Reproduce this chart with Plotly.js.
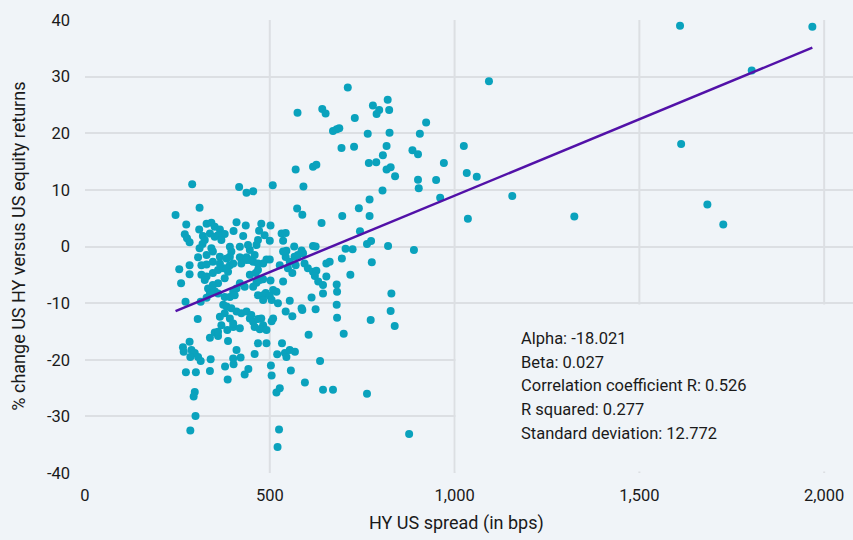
<!DOCTYPE html>
<html><head><meta charset="utf-8">
<script src="https://cdn.plot.ly/plotly-3.0.1.min.js"></script>
<style>html,body{margin:0;padding:0;background:#f0f4f8;} #chart{width:853px;height:540px;}</style>
</head><body><div id="chart"></div>
<script>
// HY US spread (bps) for each observation
const spreadBps = [
575,642,651,711,671,681,688,694,730,728,
779,796,789,819,823,765,824,816,806,768,
788,816,827,839,805,770,770,741,696,744,
763,774,820,890,776,923,906,886,901,901,
903,950,971,961,1025,1033,1060,1093,1156,1036,
570,617,626,591,508,455,574,588,640,617,
624,705,724,695,653,662,566,586,576,543,
545,532,543,536,477,502,500,471,464,446,
468,455,468,491,500,486,590,567,536,
549,561,570,594,603,617,626,653,622,718,
446,462,482,502,536,464,631,644,681,682,
644,509,518,468,482,489,500,482,505,522,
554,613,829,543,561,586,588,624,681,682,
773,827,838,446,455,468,477,482,459,473,
491,509,505,605,700,468,491,533,459,520,
541,545,554,568,636,442,503,505,557,595,
644,671,763,518,527,525,521,877,
283,338,387,265,267,288,297,306,313,285,
340,410,421,401,402,379,432,273,300,338,
386,297,294,299,285,
255,283,283,260,272,313,305,351,360,385,401,419,
290,417,437,310,245,274,329,342,351,365,
378,309,410,435,402,428,270,276,283,319,
324,318,338,351,360,369,441,392,396,419,
342,346,310,306,365,392,419,437,459,
329,346,365,383,392,423,446,
315,329,324,346,360,374,387,378,360,346,
333,338,351,360,419,432,410,401,455,
329,378,392,405,374,383,396,410,423,437,
450,378,365,392,401,369,360,
468,473,315,329,383,401,437,482,527,554,
1610,1968,1804,1613,1324,1684,1727
];
// % change US HY versus US equity returns
const relReturn = [
23.6,24.3,23.5,28.1,20.4,20.7,20.9,17.4,22.7,17.6,
24.9,24.1,23.4,25.9,24.1,19.9,20.1,17.75,16.1,14.75,
14.9,13.6,14.0,12.4,9.9,8.3,5.4,6.75,5.4,2.7,
0.44,0.97,0.1,-0.6,-2.8,21.9,19.9,17.0,16.3,11.8,
10.3,11.75,14.75,8.6,17.75,13.0,12.3,29.2,8.9,4.9,
13.6,14.1,14.45,10.6,10.8,9.75,6.7,5.6,4.15,0.1,
0.0,-0.4,-0.5,-2.1,-3.0,-2.7,0.0,-0.7,-1.5,-1.85,
-0.74,2.3,2.4,1.0,4.0,3.7,1.0,2.8,0.26,-0.6,
1.15,-2.7,-3.0,-2.3,-2.3,2.0,-1.2,-1.8,-0.9,
-3.85,-4.7,-3.3,-3.0,-3.85,-4.45,-4.3,-5.3,-5.2,-5.0,
-5.0,-4.7,-5.8,-6.0,-6.2,-6.4,-6.2,-6.8,-6.7,-8.0,
-8.3,-7.7,-8.0,-8.6,-8.6,-8.2,-8.75,-9.45,-9.45,-10.0,
-9.6,-9.0,-8.3,-11.5,-12.3,-10.9,-11.2,-11.1,-10.3,-12.6,
-13.0,-11.4,-14.05,-12.7,-13.3,-12.8,-12.7,-13.9,-14.2,-14.6,
-14.75,-12.7,-13.2,-15.6,-15.4,-17.1,-17.1,-17.1,-19.0,-19.05,
-18.8,-19.5,-18.3,-18.6,-20.2,-21.65,-21.0,-22.8,-21.9,-24.0,
-25.3,-25.3,-26.0,-25.8,-25.05,-32.3,-35.4,-33.1,
-16.8,-16.1,-16.7,-17.8,-18.6,-18.3,-18.8,-19.5,-20.2,-19.5,
-19.9,-18.3,-19.6,-19.8,-20.8,-21.2,-22.6,-22.2,-22.2,-22.0,
-23.5,-25.7,-26.5,-29.95,-32.5,
-4.0,-3.3,-4.9,-6.5,-9.75,-9.75,-12.8,-15.2,-15.8,-14.75,-14.2,-14.45,
11.0,10.5,9.5,6.85,5.56,3.9,4.0,4.2,3.5,3.0,
2.2,3.0,4.3,3.7,2.75,1.85,2.15,1.45,0.75,1.85,
1.15,0.44,2.3,1.7,2.0,1.15,0.26,-0.04,-0.9,-0.04,
-0.3,-0.9,-0.3,-1.9,-1.8,-1.8,-1.9,-1.9,-1.5,
-1.5,-2.7,-3.0,-2.1,-3.3,-3.0,-2.4,
-5.0,-5.3,-5.9,-4.7,-4.15,-3.85,-4.45,-5.6,-6.5,-6.8,
-7.4,-8.3,-7.9,-8.3,-6.5,-7.1,-7.4,-8.0,-7.1,
-9.05,-8.9,-8.9,-8.6,-10.3,-10.6,-10.9,-11.5,-11.8,-11.5,
-12.1,-11.8,-12.4,-12.7,-13.6,-13.9,-15.05,
-4.15,-5.9,-3.3,-3.2,-3.85,-3.0,-2.4,-3.0,-3.3,-2.7,
39.0,38.8,31.1,18.1,5.3,7.4,3.9
];
const xTickVals = [0, 500, 1000, 1500, 2000];
const xTickText = ["0", "500", "1,000", "1,500", "2,000"];
const yTickVals = [-40, -30, -20, -10, 0, 10, 20, 30, 40];
const yTickText = ["-40", "-30", "-20", "-10", "0", "10", "20", "30", "40"];
const statLabels = ["Alpha", "Beta", "Correlation coefficient R", "R squared", "Standard deviation"];
const statValues = ["-18.021", "0.027", "0.526", "0.277", "12.772"];
const alpha = -18.021;
const beta = 0.027;

const BG = '#f0f4f8';
const GRID = '#dcdfe3';
const FONT = 'Roboto, "Noto Sans", sans-serif';

const xMin = Math.min(...spreadBps), xMax = Math.max(...spreadBps);
const fitX = [xMin, xMax];
const fitY = fitX.map(v => alpha + beta * v);

const traces = [
  {type: 'scatter', mode: 'markers', x: spreadBps, y: relReturn,
   marker: {size: 8, color: '#0aa2bd', line: {width: 0}}, hoverinfo: 'x+y'},
  {type: 'scatter', mode: 'lines', x: fitX, y: fitY,
   line: {color: '#5211a8', width: 2.5}, hoverinfo: 'skip'}
];

const shapes = [];
xTickVals.filter(v => v > 0 && v < 2000).forEach(v => shapes.push({
  type: 'line', xref: 'x', yref: 'paper', x0: v, x1: v, y0: 0, y1: 1,
  line: {color: GRID, width: 2}, layer: 'between'}));
shapes.push({type: 'rect', xref: 'x', yref: 'y', x0: 1003, x1: 2100, y0: -39.75, y1: -10.25,
  fillcolor: BG, line: {width: 0}, layer: 'between'});
shapes.push({type: 'line', xref: 'x', yref: 'paper', x0: 2000, x1: 2000, y0: 0, y1: 1,
  line: {color: GRID, width: 2}, layer: 'between'});

const annotations = statLabels.map((lab, i) => ({
  xref: 'x', yref: 'y', x: 1174, y: -16.2 - i * 4.2,
  xanchor: 'left', yanchor: 'middle', showarrow: false,
  text: lab + ': ' + statValues[i],
  font: {family: FONT, size: 16.5, color: '#1a1a1a'}
}));
annotations.push({xref: 'paper', yref: 'paper', x: 0.484, y: -0.11, xanchor: 'center', yanchor: 'middle',
  showarrow: false, text: 'HY US spread (in bps)', font: {family: FONT, size: 18, color: '#1a1a1a'}});
annotations.push({xref: 'paper', yref: 'paper', x: -0.087, y: 0.5, xanchor: 'center', yanchor: 'middle',
  showarrow: false, textangle: -90, text: '% change US HY versus US equity returns',
  font: {family: FONT, size: 18, color: '#1a1a1a'}});

const layout = {
  width: 853, height: 540,
  margin: {l: 85, r: 0, t: 20, b: 67, pad: 0},
  paper_bgcolor: BG, plot_bgcolor: BG,
  showlegend: false,
  font: {family: FONT, size: 16, color: '#1a1a1a'},
  xaxis: {range: [0, 2078], tickvals: xTickVals, ticktext: xTickText, showgrid: false,
          zeroline: false, showline: false, ticks: '', ticklabelstandoff: 10,
          tickfont: {family: FONT, size: 16.5, color: '#1a1a1a'}},
  yaxis: {range: [-40, 40], tickvals: yTickVals, ticktext: yTickText, showgrid: true,
          gridcolor: GRID, gridwidth: 2, zeroline: false, showline: false, ticks: '',
          ticklabelstandoff: 14, tickfont: {family: FONT, size: 16.5, color: '#1a1a1a'}},
  shapes: shapes,
  annotations: annotations
};

Plotly.newPlot('chart', traces, layout, {displayModeBar: false, staticPlot: true});
</script>
</body></html>
